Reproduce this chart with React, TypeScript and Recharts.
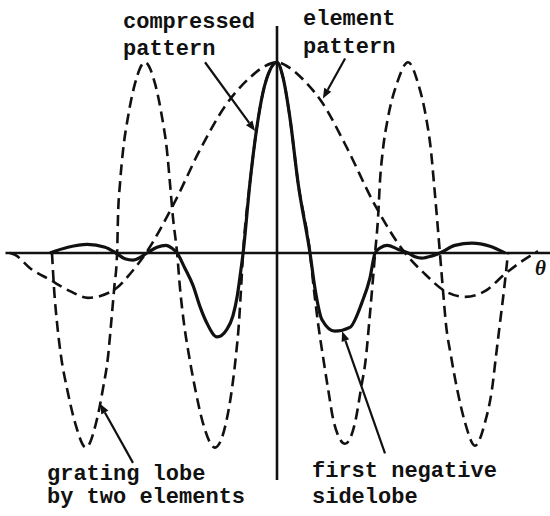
import { LineChart, Line, XAxis, YAxis, ReferenceLine } from "recharts";

// theta in degrees, gain normalised to the main-lobe peak
const elementTheta = [
  -89, -87.3, -82.3, -75.7, -69, -63, -54, -49, -43.7, -34, -25.7, -17.3, -9, -4, 0,
  4.3, 9.3, 15, 22.7, 32.7, 42.7, 49.3, 56, 62.7, 69.3, 76, 81, 87,
];
const elementGain = [
  0, -0.01, -0.08, -0.14, -0.2, -0.235, -0.19, -0.11, 0, 0.27, 0.54, 0.77, 0.92, 0.98, 1,
  0.97, 0.9, 0.79, 0.57, 0.25, 0, -0.11, -0.2, -0.23, -0.2, -0.11, -0.05, 0.01,
];

const gratingTheta = [
  -75, -74.3, -73.3, -72, -70, -67.3, -63.7, -60.3, -58, -56.3, -55.3, -54.3,
  -53.3, -53, -52.3, -51.3, -49.7, -47.3, -44, -40.7, -38.3, -36.7, -35.7, -34.7,
  -33.3, -32.3, -31, -29.3, -27.3, -24.7, -20.7, -17, -15, -13.7, -12.7, -12,
  -11.3, -9, -6.7, -4.7, -2.3, 0, 2, 4.3, 7, 11,
  12.3, 13.7, 15.3, 17, 19, 22.7, 26, 28, 29.7, 30.7, 31.7,
  32.7, 33.7, 34.3, 35.3, 37, 40, 43.7, 47, 49.7, 51.3, 52.3, 53.3,
  54.3, 55.3, 56.3, 58, 60, 62.7, 66, 69.3, 71.7, 73, 74.3, 75.7, 77,
];
const gratingGain = [
  0, -0.19, -0.37, -0.54, -0.71, -0.89, -1.02, -0.89, -0.71, -0.54, -0.37, -0.19,
  0, 0.19, 0.37, 0.54, 0.71, 0.89, 1, 0.89, 0.71, 0.54, 0.37, 0.19,
  0, -0.19, -0.37, -0.54, -0.71, -0.89, -1.02, -0.89, -0.71, -0.54, -0.37, -0.19,
  0, 0.37, 0.66, 0.84, 0.96, 1, 0.92, 0.71, 0.37, 0,
  -0.19, -0.37, -0.54, -0.71, -0.89, -1, -0.89, -0.71, -0.54, -0.37, -0.19,
  0, 0.19, 0.37, 0.54, 0.71, 0.89, 1, 0.89, 0.71, 0.54, 0.37, 0.19,
  0, -0.19, -0.37, -0.54, -0.71, -0.89, -1.01, -0.89, -0.71, -0.54, -0.37, -0.19, 0,
];

const compressedTheta = [
  -75.7, -69.7, -63.3, -57.3, -53.7, -50.7, -48, -45.3, -43.3, -40, -37, -35,
  -33.3, -30.7, -28, -25.7, -23.3, -20, -16.7, -14.7, -13.3, -12.3,
  -11.3, -9, -6.7, -4.7, -2.3, 0, 2, 4.3, 7, 11,
  12.7, 15, 19.3, 24.3, 28.3, 31, 32.7, 34.7, 36.7, 40.3, 43.7, 46, 48.3, 51.7,
  54.3, 59.3, 65, 71, 76,
];
const compressedGain = [
  0, 0.03, 0.045, 0.03, 0, -0.03, -0.037, -0.02, 0, 0.03, 0.04, 0.025,
  0, -0.08, -0.17, -0.28, -0.37, -0.44, -0.4, -0.33, -0.23, -0.12,
  0, 0.37, 0.66, 0.84, 0.96, 1, 0.92, 0.71, 0.37, 0,
  -0.19, -0.35, -0.41, -0.39, -0.26, -0.13, 0, 0.03, 0.04, 0.02, 0, -0.02, -0.027, -0.015,
  0, 0.04, 0.052, 0.035, 0,
];

// annotation arrows: [from theta, from gain, to theta, to gain]
const arrows = [
  [-24, 1.0, -7.3, 0.64],
  [22.7, 1.02, 15.3, 0.81],
  [-48, -1.1, -59, -0.79],
  [36, -1.05, 21.7, -0.41],
];

const toRows = (t: number[], g: number[]) => t.map((theta, i) => ({ theta, gain: g[i] }));

const elementData = toRows(elementTheta, elementGain);
const gratingData = toRows(gratingTheta, gratingGain);
const compressedData = toRows(compressedTheta, compressedGain);

const ink = "#111";
const labelFont = { fontFamily: "Liberation Mono", fontSize: 22, fontWeight: "bold", fill: ink };

function Arrow(props: any) {
  const { x1, y1, x2, y2 } = props;
  const a = Math.atan2(y2 - y1, x2 - x1);
  const len = 10;
  const w = 4;
  const bx = x2 - len * Math.cos(a);
  const by = y2 - len * Math.sin(a);
  const px = -Math.sin(a) * w;
  const py = Math.cos(a) * w;
  return (
    <g>
      <line x1={x1} y1={y1} x2={bx} y2={by} stroke={ink} strokeWidth={2.2} />
      <path d={`M${x2},${y2} L${bx + px},${by + py} L${bx - px},${by - py} Z`} fill={ink} />
    </g>
  );
}

export default function App() {
  return (
    <div style={{ position: "absolute", left: 0, top: 0, background: "#fff" }}>
      <LineChart width={550} height={516} margin={{ top: 5, right: 0, bottom: 15, left: 7 }}>
        <XAxis type="number" dataKey="theta" domain={[-90, 91]} hide allowDataOverflow />
        <YAxis type="number" dataKey="gain" domain={[-1.3, 1.3]} hide allowDataOverflow />
        <ReferenceLine
          segment={[{ x: -90.5, y: 0 }, { x: 91, y: 0 }]}
          stroke={ink}
          strokeWidth={2.6}
          ifOverflow="visible"
        />
        <ReferenceLine
          segment={[{ x: 0, y: -1.19 }, { x: 0, y: 1.19 }]}
          stroke={ink}
          strokeWidth={2.6}
        />
        <Line
          data={elementData}
          dataKey="gain"
          type="monotone"
          stroke={ink}
          strokeWidth={2.6}
          strokeDasharray="11 6"
          dot={false}
          isAnimationActive={false}
        />
        <Line
          data={gratingData}
          dataKey="gain"
          type="monotone"
          stroke={ink}
          strokeWidth={2.6}
          strokeDasharray="11 6"
          dot={false}
          isAnimationActive={false}
        />
        <Line
          data={compressedData}
          dataKey="gain"
          type="monotone"
          stroke={ink}
          strokeWidth={3.2}
          dot={false}
          isAnimationActive={false}
        />
        {arrows.map(([ax, ay, bx, by], i) => (
          <ReferenceLine
            key={i}
            segment={[{ x: ax, y: ay }, { x: bx, y: by }]}
            shape={Arrow}
          />
        ))}
        <text {...labelFont} x={123} y={28}>compressed</text>
        <text {...labelFont} x={123} y={55}>pattern</text>
        <text {...labelFont} x={303} y={25}>element</text>
        <text {...labelFont} x={303} y={53}>pattern</text>
        <text {...labelFont} x={47} y={480}>grating lobe</text>
        <text {...labelFont} x={47} y={503}>by two elements</text>
        <text {...labelFont} x={312} y={477}>first negative</text>
        <text {...labelFont} x={312} y={503}>sidelobe</text>
        <text x={535} y={275} fontFamily="Liberation Serif" fontStyle="italic" fontWeight="bold" fontSize={21} fill={ink}>
          θ
        </text>
      </LineChart>
    </div>
  );
}
